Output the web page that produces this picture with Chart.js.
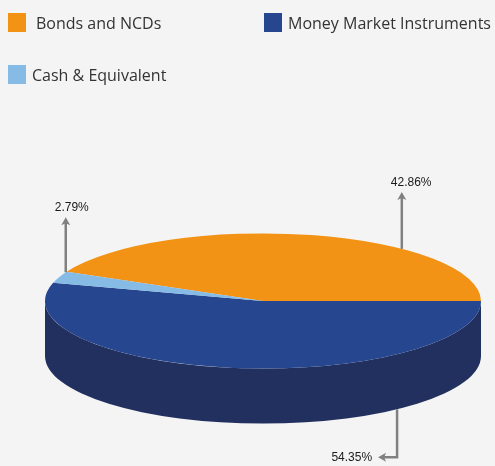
<!DOCTYPE html>
<html lang="en">
<head>
    <meta charset="UTF-8">
    <title>Asset Allocation</title>
    <script src="https://cdn.jsdelivr.net/npm/chart.js"></script>
    <style>
        html, body {
            margin: 0;
            padding: 0;
            background: #f4f4f4;
        }
        .wrap {
            position: relative;
            width: 495px;
            height: 466px;
            overflow: hidden;
        }
        #grafico {
            position: absolute;
            left: 0;
            top: 0;
        }
        .leyenda {
            position: absolute;
            left: 8px;
            top: 13px;
            width: 487px;
            display: grid;
            grid-template-columns: 256px auto;
            row-gap: 33px;
            font-family: "Open Sans", sans-serif;
            font-size: 16px;
            color: #333;
        }
        .leyenda .item {
            display: flex;
            align-items: center;
            height: 19px;
            white-space: nowrap;
        }
        .leyenda .caja {
            width: 18px;
            height: 19px;
            margin-right: 6px;
            flex: none;
        }
        .leyenda .item:first-child .caja {
            margin-right: 10px;
        }
    </style>
</head>
<body>
    <div class="wrap">
        <canvas id="grafico" width="495" height="466"></canvas>
        <div id="leyenda" class="leyenda"></div>
    </div>
    <script>
        const categorias = ['Bonds and NCDs', 'Money Market Instruments', 'Cash & Equivalent'];
        const porcentajes = [42.86, 54.35, 2.79];
        const colores = ['#f29316', '#26468f', '#86bbe6'];
        const coloresLado = ['#c0720c', '#21305e', '#5f8fbc'];

        // Leyenda en HTML, dos columnas
        const leyenda = document.getElementById('leyenda');
        categorias.forEach((cat, i) => {
            const item = document.createElement('div');
            item.className = 'item';
            const caja = document.createElement('span');
            caja.className = 'caja';
            caja.style.background = colores[i];
            const txt = document.createElement('span');
            txt.textContent = cat;
            item.appendChild(caja);
            item.appendChild(txt);
            leyenda.appendChild(item);
        });

        // Vista inclinada del pastel
        const vista = { inclinacion: 0.31, profundidad: 55, bajada: 68 };

        // Flechas de etiquetas: posición a lo largo del arco y dirección
        const flechas = [
            { frac: 0.673, dir: 'arriba', largo: 57 },
            { frac: 0.266, dir: 'abajo', largo: 48, lado: 19 },
            { frac: 0.95, dir: 'arriba', largo: 55 }
        ];

        function centroPantalla(arc) {
            return { x: arc.x, y: arc.y + vista.bajada, rx: arc.outerRadius, ry: arc.outerRadius * vista.inclinacion };
        }

        // Paredes laterales: solo la mitad frontal (ángulos 0..PI) es visible
        function dibujarParedes(chart) {
            const ctx = chart.ctx;
            const meta = chart.getDatasetMeta(0);
            meta.data.forEach((arc, i) => {
                const c = centroPantalla(arc);
                const s = arc.startAngle, e = arc.endAngle;
                for (let k = -1; k <= 1; k++) {
                    const lo = k * 2 * Math.PI, hi = lo + Math.PI;
                    const a = Math.max(s, lo), b = Math.min(e, hi);
                    if (b <= a) continue;
                    ctx.beginPath();
                    ctx.ellipse(c.x, c.y, c.rx, c.ry, 0, a, b);
                    ctx.ellipse(c.x, c.y + vista.profundidad, c.rx, c.ry, 0, b, a, true);
                    ctx.closePath();
                    ctx.fillStyle = coloresLado[i];
                    ctx.fill();
                }
            });
        }

        function dibujarFlecha(ctx, x, y, dir) {
            ctx.beginPath();
            if (dir === 'arriba') {
                ctx.moveTo(x, y);
                ctx.lineTo(x - 4.5, y + 8);
                ctx.lineTo(x, y + 6);
                ctx.lineTo(x + 4.5, y + 8);
            } else {
                ctx.moveTo(x, y);
                ctx.lineTo(x + 8, y - 4.5);
                ctx.lineTo(x + 6, y);
                ctx.lineTo(x + 8, y + 4.5);
            }
            ctx.closePath();
            ctx.fill();
        }

        function dibujarEtiquetas(chart) {
            const ctx = chart.ctx;
            const meta = chart.getDatasetMeta(0);
            ctx.save();
            ctx.strokeStyle = '#808080';
            ctx.fillStyle = '#808080';
            ctx.lineWidth = 2.5;
            ctx.font = '12px "Liberation Sans", Arial, sans-serif';
            meta.data.forEach((arc, i) => {
                const f = flechas[i];
                const c = centroPantalla(arc);
                const ang = arc.startAngle + (arc.endAngle - arc.startAngle) * f.frac;
                const x = c.x + c.rx * Math.cos(ang);
                const texto = porcentajes[i].toFixed(2) + '%';
                if (f.dir === 'arriba') {
                    const y0 = c.y + c.ry * Math.sin(ang);
                    const tip = y0 - f.largo;
                    ctx.beginPath();
                    ctx.moveTo(x, y0);
                    ctx.lineTo(x, tip + 5);
                    ctx.stroke();
                    dibujarFlecha(ctx, x, tip, 'arriba');
                    ctx.fillStyle = '#1a1a1a';
                    ctx.textAlign = 'left';
                    ctx.textBaseline = 'alphabetic';
                    ctx.fillText(texto, x - 11, tip - 6);
                } else {
                    const y0 = c.y + vista.profundidad + c.ry * Math.sin(ang);
                    const yb = y0 + f.largo;
                    const tip = x - f.lado;
                    ctx.beginPath();
                    ctx.moveTo(x, y0);
                    ctx.lineTo(x, yb);
                    ctx.lineTo(tip + 5, yb);
                    ctx.stroke();
                    dibujarFlecha(ctx, tip, yb, 'izquierda');
                    ctx.fillStyle = '#1a1a1a';
                    ctx.textAlign = 'right';
                    ctx.textBaseline = 'middle';
                    ctx.fillText(texto, tip - 6, yb + 0.5);
                }
                ctx.fillStyle = '#808080';
            });
            ctx.restore();
        }

        const pastel3d = {
            id: 'pastel3d',
            beforeDatasetsDraw(chart) {
                const ctx = chart.ctx;
                dibujarParedes(chart);
                const arc = chart.getDatasetMeta(0).data[0];
                // Aplanar la cara superior en una elipse
                ctx.save();
                ctx.translate(arc.x, arc.y + vista.bajada);
                ctx.scale(1, vista.inclinacion);
                ctx.translate(-arc.x, -arc.y);
            },
            afterDatasetsDraw(chart) {
                chart.ctx.restore();
                dibujarEtiquetas(chart);
            }
        };

        const inicio = 90 - porcentajes[0] / 100 * 360;

        new Chart(document.getElementById('grafico'), {
            type: 'pie',
            data: {
                labels: categorias,
                datasets: [{
                    data: porcentajes,
                    backgroundColor: colores,
                    borderWidth: 0,
                    clip: false
                }]
            },
            options: {
                responsive: false,
                animation: false,
                events: [],
                rotation: inicio,
                layout: { padding: { left: 45, right: 14, top: 15, bottom: 15 } },
                plugins: {
                    legend: { display: false },
                    tooltip: { enabled: false }
                }
            },
            plugins: [pastel3d]
        });
    </script>
</body>
</html>
